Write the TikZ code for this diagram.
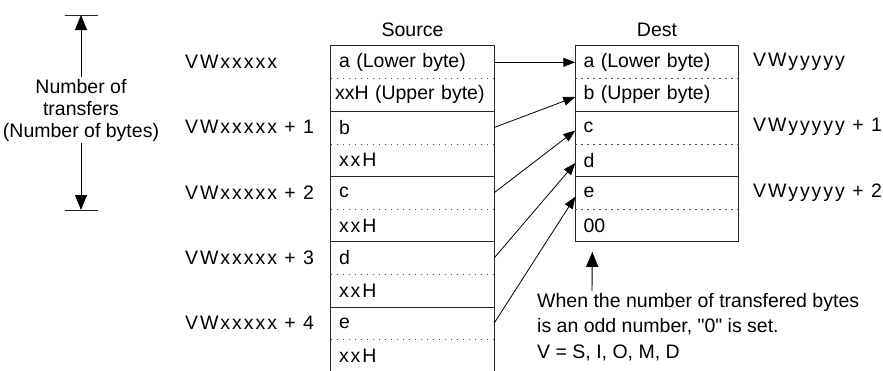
\documentclass[tikz,border=0pt]{standalone}
\usepackage{fontspec}
\setmainfont{Liberation Sans}
\newfontfamily\wideface[LetterSpace=10]{Liberation Sans}
\usepackage{tikz}
\usetikzlibrary{arrows.meta}

\begin{document}
\begin{tikzpicture}[x=1pt, y=-1pt, >={Triangle[length=12pt,width=9pt]},
    font=\fontsize{19.5}{22}\selectfont,
    cell/.style={rectangle, minimum height=32.6pt, text width=147pt, inner xsep=8pt, inner ysep=0pt, align=left},
    addr/.style={anchor=west, inner sep=0pt, font=\fontsize{19.5}{22}\wideface},
    frame/.style={draw=black!85, line width=1pt},
    half/.style={draw=black!70, line width=0.9pt, dash pattern=on 1.5pt off 4.5pt},
    conn/.style={->, line width=0.8pt},
    span/.style={-{Triangle[length=15pt,width=12pt]}, line width=0.9pt}]
    \useasboundingbox (0,0) rectangle (883,370);

    % source and destination areas
    \node (src) at (412.5,30) {Source};
    \node (dst) at (657,30) {Dest};
    \foreach \t [count=\i] in {a (Lower byte), {\hspace*{-4pt}\mbox{xxH (Upper byte)}}, b, {\wideface xxH}, c, {\wideface xxH}, d, {\wideface xxH}, e, {\wideface xxH}}
        \node[cell] (s\i) at (412.5,{46+32.6*(\i-0.5)}) {\t};
    \foreach \t [count=\i] in {a (Lower byte), b (Upper byte), c, d, e, 00}
        \node[cell] (d\i) at (657,{46+32.6*(\i-0.5)}) {\t};

    \draw[frame] (s10.south west) |- (s1.north east) -- (s10.south east);
    \draw[frame] (d1.north west) rectangle (d6.south east);
    \foreach \i in {1,3,5,7,9}
        \draw[half] (s\i.south west) -- (s\i.south east);
    \foreach \i in {2,4,6,8}
        \draw[frame] (s\i.south west) -- (s\i.south east);
    \foreach \i in {1,3,5}
        \draw[half] (d\i.south west) -- (d\i.south east);
    \foreach \i in {2,4}
        \draw[frame] (d\i.south west) -- (d\i.south east);

    % addresses
    \node[addr] (sa1) at (185,62) {VWxxxxx};
    \foreach \i in {2,...,5}
        \node[addr] (sa\i) at (185,{62+65.2*(\i-1)}) {VWxxxxx + \the\numexpr\i-1\relax};
    \node[addr] (da1) at (753,62) {VWyyyyy};
    \node[addr] (da2) at (753,127.2) {VWyyyyy + 1};
    \node[addr] (da3) at (753,192.4) {VWyyyyy + 2};

    % transfers
    \draw[conn] (s1.east) -- (d1.west);
    \draw[conn] (s3.east) -- ([yshift=-2pt]d2.west);
    \draw[conn] (s5.east) -- ([yshift=-3pt]d3.west);
    \draw[conn] (s7.east) -- ([yshift=-3pt]d4.west);
    \draw[conn] (s9.east) -- ([yshift=-4pt]d5.west);

    % number of transfers
    \coordinate (ttop) at (81,15);
    \coordinate (tbot) at (81,210);
    \node[align=center, inner sep=2pt] (ntr) at (81,110) {Number of\\transfers\\(Number of bytes)};
    \draw[frame, line width=0.9pt] ([xshift=-16.5pt]ttop) -- ([xshift=16.5pt]ttop);
    \draw[frame, line width=0.9pt] ([xshift=-16.5pt]tbot) -- ([xshift=16.5pt]tbot);
    \draw[span] (ntr.north) -- (ttop);
    \draw[span] (ntr.south) -- (tbot);

    % note
    \node[anchor=north west, align=left, inner sep=0pt, font=\fontsize{19.5}{25.5}\selectfont] (note) at (537,293)
        {When the number of transfered bytes\\is an odd number, \textquotedbl 0\textquotedbl\ is set.\\V = S, I, O, M, D};
    \coordinate (nbase) at (592,291);
    \draw[span] (nbase) -- ([xshift=17pt,yshift=-10pt]d6.south west);
\end{tikzpicture}
\end{document}
